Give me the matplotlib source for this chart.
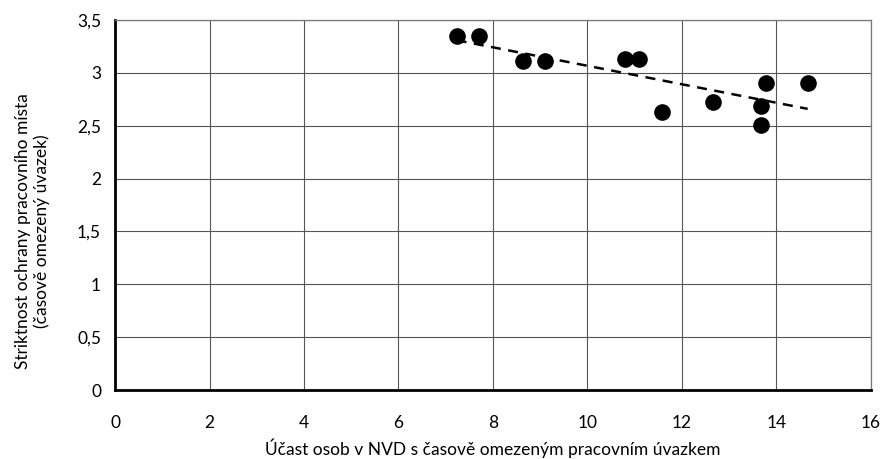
import numpy as np
import matplotlib.pyplot as plt

# podíl osob v NVD s časově omezeným úvazkem (%) vs. striktnost ochrany
ucast = [7.23, 7.70, 8.63, 9.11, 10.79, 11.10, 11.57, 12.65, 13.77, 13.67, 13.67, 14.66]
striktnost = [3.35, 3.35, 3.11, 3.11, 3.13, 3.13, 2.63, 2.72, 2.90, 2.69, 2.51, 2.90]

x_ticks = [0, 2, 4, 6, 8, 10, 12, 14, 16]
y_ticks = [0, 0.5, 1, 1.5, 2, 2.5, 3, 3.5]
y_labels = ["0", "0,5", "1", "1,5", "2", "2,5", "3", "3,5"]

plt.rcParams['font.family'] = ['Lato', 'DejaVu Sans']

fig = plt.figure(figsize=(8.82, 4.59), dpi=100)
ax = fig.add_axes([0.1304, 0.1503, 0.8571, 0.8061])

ax.scatter(ucast, striktnost, s=120, color="black", zorder=3)

# lineární trend
k, q = np.polyfit(ucast, striktnost, 1)
xs = np.array([min(ucast), max(ucast)])
ax.plot(xs, k * xs + q, "--", color="black", lw=1.8, dashes=(4, 3), zorder=2)

ax.set_xlim(0, 16)
ax.set_ylim(0, 3.5)
ax.set_xticks(x_ticks)
ax.set_yticks(y_ticks)
ax.set_yticklabels(y_labels)
ax.tick_params(length=0, labelsize=12.5)
ax.tick_params(axis="x", pad=18)
ax.tick_params(axis="y", pad=10)

ax.grid(True, color="#555555", lw=0.8)
ax.set_axisbelow(True)
for s in ["top", "right"]:
    ax.spines[s].set_color("#777777")
    ax.spines[s].set_linewidth(0.9)
for s in ["left", "bottom"]:
    ax.spines[s].set_color("black")
    ax.spines[s].set_linewidth(2)

ax.set_xlabel("Účast osob v NVD s časově omezeným pracovním úvazkem", fontsize=12.5)
ax.xaxis.set_label_coords(0.5, -0.13)
ax.set_ylabel("Striktnost ochrany pracovního místa\n(časově omezený úvazek)", fontsize=12.5)
ax.yaxis.set_label_coords(-0.086, 0.43)

fig.savefig("out.png", dpi=100)
